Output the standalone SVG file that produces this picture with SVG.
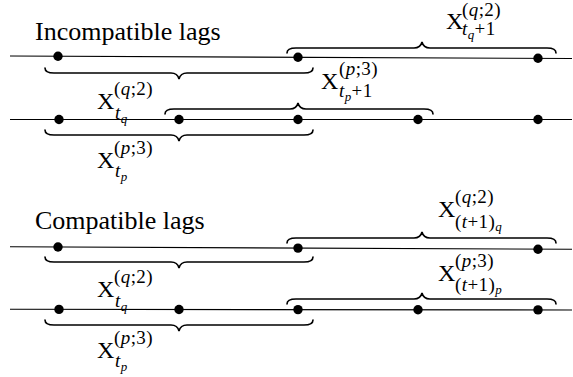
<svg xmlns="http://www.w3.org/2000/svg" width="573" height="377" viewBox="0 0 573 377">
<style>
.ln{stroke:#000;stroke-width:1.1;fill:none}
.br{stroke:#000;stroke-width:1.6;fill:none;stroke-linecap:round}
.dot{fill:#000}
text{font-family:"Liberation Serif","Times New Roman",serif;fill:#000}
.t{font-size:26px}
.X{font-size:24px}
.s{font-size:19px;letter-spacing:0.4px}
.ss{font-size:13px}
.i{font-style:italic}
</style>
<rect width="573" height="377" fill="#fff"/>
<g id="titles">
<text class="t" x="35" y="40">Incompatible lags</text>
<text class="t" x="35" y="229">Compatible lags</text>
</g>
<g id="connectors">
<line class="ln" x1="10" y1="56" x2="572" y2="58.5"/>
<line class="ln" x1="10" y1="119.5" x2="572" y2="119.5"/>
<line class="ln" x1="10" y1="246.7" x2="572" y2="249.3"/>
<line class="ln" x1="10" y1="309.3" x2="572" y2="310"/>
</g>
<g id="dots">
<circle class="dot" cx="58" cy="56.2" r="4.7"/>
<circle class="dot" cx="298" cy="57.3" r="4.7"/>
<circle class="dot" cx="538" cy="58.3" r="4.7"/>
<circle class="dot" cx="59" cy="119.5" r="4.7"/>
<circle class="dot" cx="179" cy="119.5" r="4.7"/>
<circle class="dot" cx="298" cy="119.5" r="4.7"/>
<circle class="dot" cx="418" cy="119.5" r="4.7"/>
<circle class="dot" cx="538" cy="119.5" r="4.7"/>
<circle class="dot" cx="58" cy="247.0" r="4.7"/>
<circle class="dot" cx="298" cy="248.1" r="4.7"/>
<circle class="dot" cx="538" cy="249.2" r="4.7"/>
<circle class="dot" cx="59" cy="309.4" r="4.7"/>
<circle class="dot" cx="179" cy="309.5" r="4.7"/>
<circle class="dot" cx="298" cy="309.6" r="4.7"/>
<circle class="dot" cx="418" cy="309.8" r="4.7"/>
<circle class="dot" cx="538" cy="309.9" r="4.7"/>
</g>
<g id="braces">
<path class="br" d="M45 68 C45 72 48 73 54 73 L171 73 C175 73 178 75 179 79 C180 75 183 73 187 73 L304 73 C310 73 313 72 313 68"/>
<path class="br" d="M287 53 C287 49 290 48 296 48 L414 48 C418 48 421 46 422 42 C423 46 426 48 430 48 L547 48 C553 48 556 49 556 53"/>
<path class="br" d="M165 114 C165 110 168 109 174 109 L290 109 C294 109 297 107 298 103 C299 107 302 109 306 109 L424 109 C430 109 433 110 433 114"/>
<path class="br" d="M45 130 C45 134 48 135 54 135 L171 135 C175 135 178 137 179 141 C180 137 183 135 187 135 L304 135 C310 135 313 134 313 130"/>
<path class="br" d="M45 257 C45 261 48 262 54 262 L171 262 C175 262 178 264 179 268 C180 264 183 262 187 262 L304 262 C310 262 313 261 313 257"/>
<path class="br" d="M287 243 C287 239 290 238 296 238 L414 238 C418 238 421 236 422 232 C423 236 426 238 430 238 L547 238 C553 238 556 239 556 243"/>
<path class="br" d="M287 304 C287 300 290 299 296 299 L414 299 C418 299 421 297 422 293 C423 297 426 299 430 299 L547 299 C553 299 556 300 556 304"/>
<path class="br" d="M45 320 C45 324 48 325 54 325 L171 325 C175 325 178 327 179 331 C180 327 183 325 187 325 L304 325 C310 325 313 324 313 320"/>
</g>
<g id="label-q2-tq1">
<text class="X" x="446" y="29">X</text>
<text class="s" x="462" y="16">(<tspan class="i">q</tspan>;2)</text>
<text class="s" x="462" y="35"><tspan class="i">t</tspan><tspan class="ss i" dy="4">q</tspan><tspan dy="-4">+1</tspan></text>
</g>
<g id="label-q2-tq-top">
<text class="X" x="97" y="109">X</text>
<text class="s" x="114" y="95">(<tspan class="i">q</tspan>;2)</text>
<text class="s" x="115" y="119"><tspan class="i">t</tspan><tspan class="ss i" dy="4">q</tspan></text>
</g>
<g id="label-p3-tp1">
<text class="X" x="321" y="89">X</text>
<text class="s" x="339" y="75">(<tspan class="i">p</tspan>;3)</text>
<text class="s" x="339" y="97"><tspan class="i">t</tspan><tspan class="ss i" dy="4">p</tspan><tspan dy="-4">+1</tspan></text>
</g>
<g id="label-p3-tp-top">
<text class="X" x="97" y="168">X</text>
<text class="s" x="114" y="154">(<tspan class="i">p</tspan>;3)</text>
<text class="s" x="115" y="177"><tspan class="i">t</tspan><tspan class="ss i" dy="4">p</tspan></text>
</g>
<g id="label-q2-t1q">
<text class="X" x="438" y="217">X</text>
<text class="s" x="455" y="203">(<tspan class="i">q</tspan>;2)</text>
<text class="s" x="455" y="228">(<tspan class="i">t</tspan>+1)<tspan class="ss i" dy="3">q</tspan></text>
</g>
<g id="label-p3-t1p">
<text class="X" x="438" y="281">X</text>
<text class="s" x="455" y="267">(<tspan class="i">p</tspan>;3)</text>
<text class="s" x="455" y="291">(<tspan class="i">t</tspan>+1)<tspan class="ss i" dy="3">p</tspan></text>
</g>
<g id="label-q2-tq-bottom">
<text class="X" x="97" y="297">X</text>
<text class="s" x="114" y="283">(<tspan class="i">q</tspan>;2)</text>
<text class="s" x="115" y="307"><tspan class="i">t</tspan><tspan class="ss i" dy="4">q</tspan></text>
</g>
<g id="label-p3-tp-bottom">
<text class="X" x="97" y="358">X</text>
<text class="s" x="114" y="344">(<tspan class="i">p</tspan>;3)</text>
<text class="s" x="115" y="367"><tspan class="i">t</tspan><tspan class="ss i" dy="4">p</tspan></text>
</g>
</svg>
